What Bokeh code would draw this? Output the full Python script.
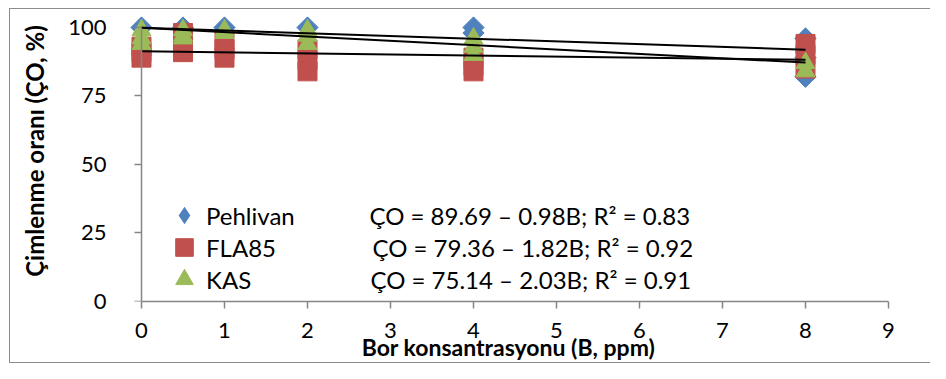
import math
from bokeh.plotting import figure
from bokeh.models import (Range1d, LinearAxis, FixedTicker, Legend, LegendItem,
                          Label, InlineStyleSheet)
from bokeh.embed import file_html
from bokeh.resources import INLINE

# ---------------- data ----------------
SERIES = ["Pehlivan", "FLA85", "KAS"]

PEH_B = [0, 0.5, 1, 2, 4, 4, 8, 8, 8]
PEH_CO = [100, 100, 100, 100, 100, 98, 96, 89, 82]

FLA_B = [0, 0, 0, 0.5, 0.5, 0.5, 1, 1, 1, 2, 2, 2, 4, 4, 4, 8, 8, 8]
FLA_CO = [93, 91, 89, 98, 95, 91, 95, 92, 89, 92, 88, 84, 89, 86, 84, 94, 90, 85]

KAS_B = [0, 0, 0, 0.5, 0.5, 0.5, 1, 1, 2, 2, 2, 4, 4, 4, 8, 8]
KAS_CO = [99, 96, 94, 99, 97, 96, 99, 98, 99, 97, 94, 96, 93, 90, 87, 84]

# trend lines (as drawn): value at B = 0 and at B = 8
TREND_B = [0, 8]
TREND_START = [99.9, 99.9, 91.3]
TREND_END = [91.9, 87.2, 88.2]

EQUATIONS = [
    "ÇO = 89.69 – 0.98B; R² = 0.83",
    "ÇO = 79.36 – 1.82B; R² = 0.92",
    "ÇO = 75.14 – 2.03B; R² = 0.91",
]

X_TICKS = list(range(0, 10))
Y_TICKS = [0, 25, 50, 75, 100]
X_TITLE = "Bor konsantrasyonu (B, ppm)"
Y_TITLE = "Çimlenme oranı (ÇO, %)"

# ---------------- styling ----------------
FONT = "Lato"
BLUE, RED, GREEN = "#4F81BD", "#C0504D", "#9BBB59"
AXIS_GRAY = "#868686"

p = figure(width=930, height=363, output_backend="svg", toolbar_location=None,
           x_range=Range1d(-0.1566, 9.0), y_range=Range1d(0, 109.85),
           x_axis_type=None, y_axis_type=None,
           min_border_left=128, min_border_right=42,
           min_border_top=0, min_border_bottom=62)
p.outline_line_color = None
p.xgrid.visible = False
p.ygrid.visible = False
p.background_fill_color = "white"
p.border_fill_color = "white"
p.stylesheets = [InlineStyleSheet(css=(
    ":host{position:relative;}"
    ":host::after{content:'';position:absolute;left:9px;top:8px;right:0;bottom:0;"
    "border:1px solid #8c8c8c;border-right:none;pointer-events:none;}"))]


def style_axis(ax):
    ax.axis_line_color = AXIS_GRAY
    ax.axis_line_width = 1.5
    ax.major_tick_line_color = AXIS_GRAY
    ax.major_tick_line_width = 1.5
    ax.major_tick_out = 7
    ax.major_tick_in = 0
    ax.minor_tick_line_color = None
    ax.major_label_text_font = FONT
    ax.major_label_text_font_size = "22px"
    ax.major_label_text_color = "#000000"
    ax.axis_label_text_font = FONT
    ax.axis_label_text_font_size = "24px"
    ax.axis_label_text_font_style = "bold"
    ax.axis_label_text_color = "#000000"


# x axis
xax = LinearAxis(bounds=(0, 9), ticker=FixedTicker(ticks=X_TICKS), axis_label=X_TITLE)
style_axis(xax)
xax.axis_label_text_font_size = "23px"
xax.major_label_standoff = 14
xax.axis_label_standoff = -8
p.add_layout(xax, "below")

# y axis: labels + title at the frame edge
yax = LinearAxis(ticker=FixedTicker(ticks=Y_TICKS), bounds=(0, 100), axis_label=Y_TITLE)
style_axis(yax)
yax.axis_line_color = None
yax.major_tick_line_color = None
yax.major_tick_out = 0
yax.major_label_standoff = 22
yax.axis_label_standoff = 16
p.add_layout(yax, "left")

# y axis line and ticks at B = 0
yline = LinearAxis(ticker=FixedTicker(ticks=Y_TICKS), bounds=(0, 100), fixed_location=0,
                   major_label_overrides={t: "" for t in Y_TICKS})
style_axis(yline)
yline.major_label_standoff = 0
p.add_layout(yline, "left")

# scatter series
r_peh_leg = p.scatter(PEH_B, PEH_CO, marker="diamond", size=21,
                      fill_color=BLUE, line_color=None)
r_peh = p.scatter(PEH_B, PEH_CO, marker="square", angle=math.pi / 4, size=15,
                  fill_color=BLUE, line_color=BLUE)
r_fla = p.scatter(FLA_B, FLA_CO, marker="square", size=19,
                  fill_color=RED, line_color=RED)
r_kas = p.scatter(KAS_B, KAS_CO, marker="triangle", size=19,
                  fill_color=GREEN, line_color=GREEN)

# trend lines
for a, b in zip(TREND_START, TREND_END):
    p.line(TREND_B, [a, b], line_color="black", line_width=2)

# legend: one single-row legend per series, stacked
LEG_Y = [62, 30, -2]
for name, rend, ly in zip(SERIES, [r_peh_leg, r_fla, r_kas], LEG_Y):
    leg = Legend(items=[LegendItem(label=name, renderers=[rend])],
                 location=(34, ly), orientation="vertical",
                 glyph_width=44, glyph_height=48, label_height=48,
                 spacing=0, padding=0, margin=0, label_standoff=0,
                 label_text_font=FONT, label_text_font_size="24px",
                 label_text_color="#000000",
                 border_line_color=None, background_fill_alpha=0)
    p.add_layout(leg, "center")

# equation texts
EQ_X = [2.747, 2.783, 2.759]
EQ_Y = [31.39, 19.71, 8.03]
for t, ex, ey in zip(EQUATIONS, EQ_X, EQ_Y):
    p.add_layout(Label(x=ex, y=ey, text=t, text_font=FONT, text_font_size="24px",
                       text_color="#000000", text_baseline="middle", text_align="left"))

open("out.html", "w").write(file_html(p, INLINE))
